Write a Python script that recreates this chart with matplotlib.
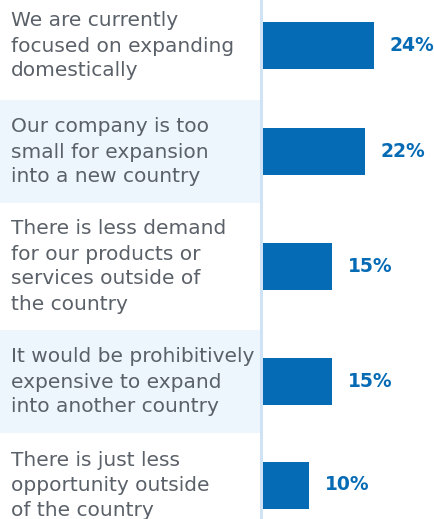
import matplotlib.pyplot as plt

reasons = [
    "We are currently\nfocused on expanding\ndomestically",
    "Our company is too\nsmall for expansion\ninto a new country",
    "There is less demand\nfor our products or\nservices outside of\nthe country",
    "It would be prohibitively\nexpensive to expand\ninto another country",
    "There is just less\nopportunity outside\nof the country",
]
shares = [24, 22, 15, 15, 10]

W, H = 435, 519
BAR_X0 = 263          # pixel where the bars start
PX_PER_PCT = 4.62     # bar length per percentage point
ROW_EDGES = [-9, 100, 203, 330, 433, 537]
BAR_H = 47
LINE_PX = 24

BLUE = "#066bb5"
GREY = "#5b6169"
BAND = "#edf5fd"
RULE = "#d0e2f5"

plt.rcParams['font.family'] = ['DejaVu Sans']

fig = plt.figure(figsize=(W / 100, H / 100), dpi=100)
ax = fig.add_axes([0, 0, 1, 1])
ax.set_xlim(-BAR_X0 / PX_PER_PCT, (W - BAR_X0) / PX_PER_PCT)
ax.set_ylim(H, 0)
ax.axis("off")

def px(x):
    return (x - BAR_X0) / PX_PER_PCT

centers = [(a + b) / 2 for a, b in zip(ROW_EDGES[:-1], ROW_EDGES[1:])]
centers[0] = 45.5

# alternating bands behind the labels
for i in range(len(reasons)):
    if i % 2 == 1:
        ax.fill_between([px(0), px(260)], ROW_EDGES[i], ROW_EDGES[i + 1],
                        color=BAND, lw=0, zorder=0)

ax.plot([px(261), px(261)], [0, H], color=RULE, lw=2.2, zorder=1)

ax.barh(centers, shares, height=BAR_H, left=0, color=BLUE, zorder=2)

fs = 14.5
for c, text, v in zip(centers, reasons, shares):
    n = text.count("\n") + 1
    # baseline of the last line
    last = c + (n - 1) * LINE_PX / 2 + 7
    ax.text(px(11), last, text, ha="left", va="baseline", fontsize=fs,
            color=GREY, linespacing=1.40)
    ax.text(v + 16 / PX_PER_PCT, c, f"{v}%", ha="left", va="center",
            fontsize=13.5, fontweight="bold", color=BLUE)

fig.savefig("out.png", dpi=100)
